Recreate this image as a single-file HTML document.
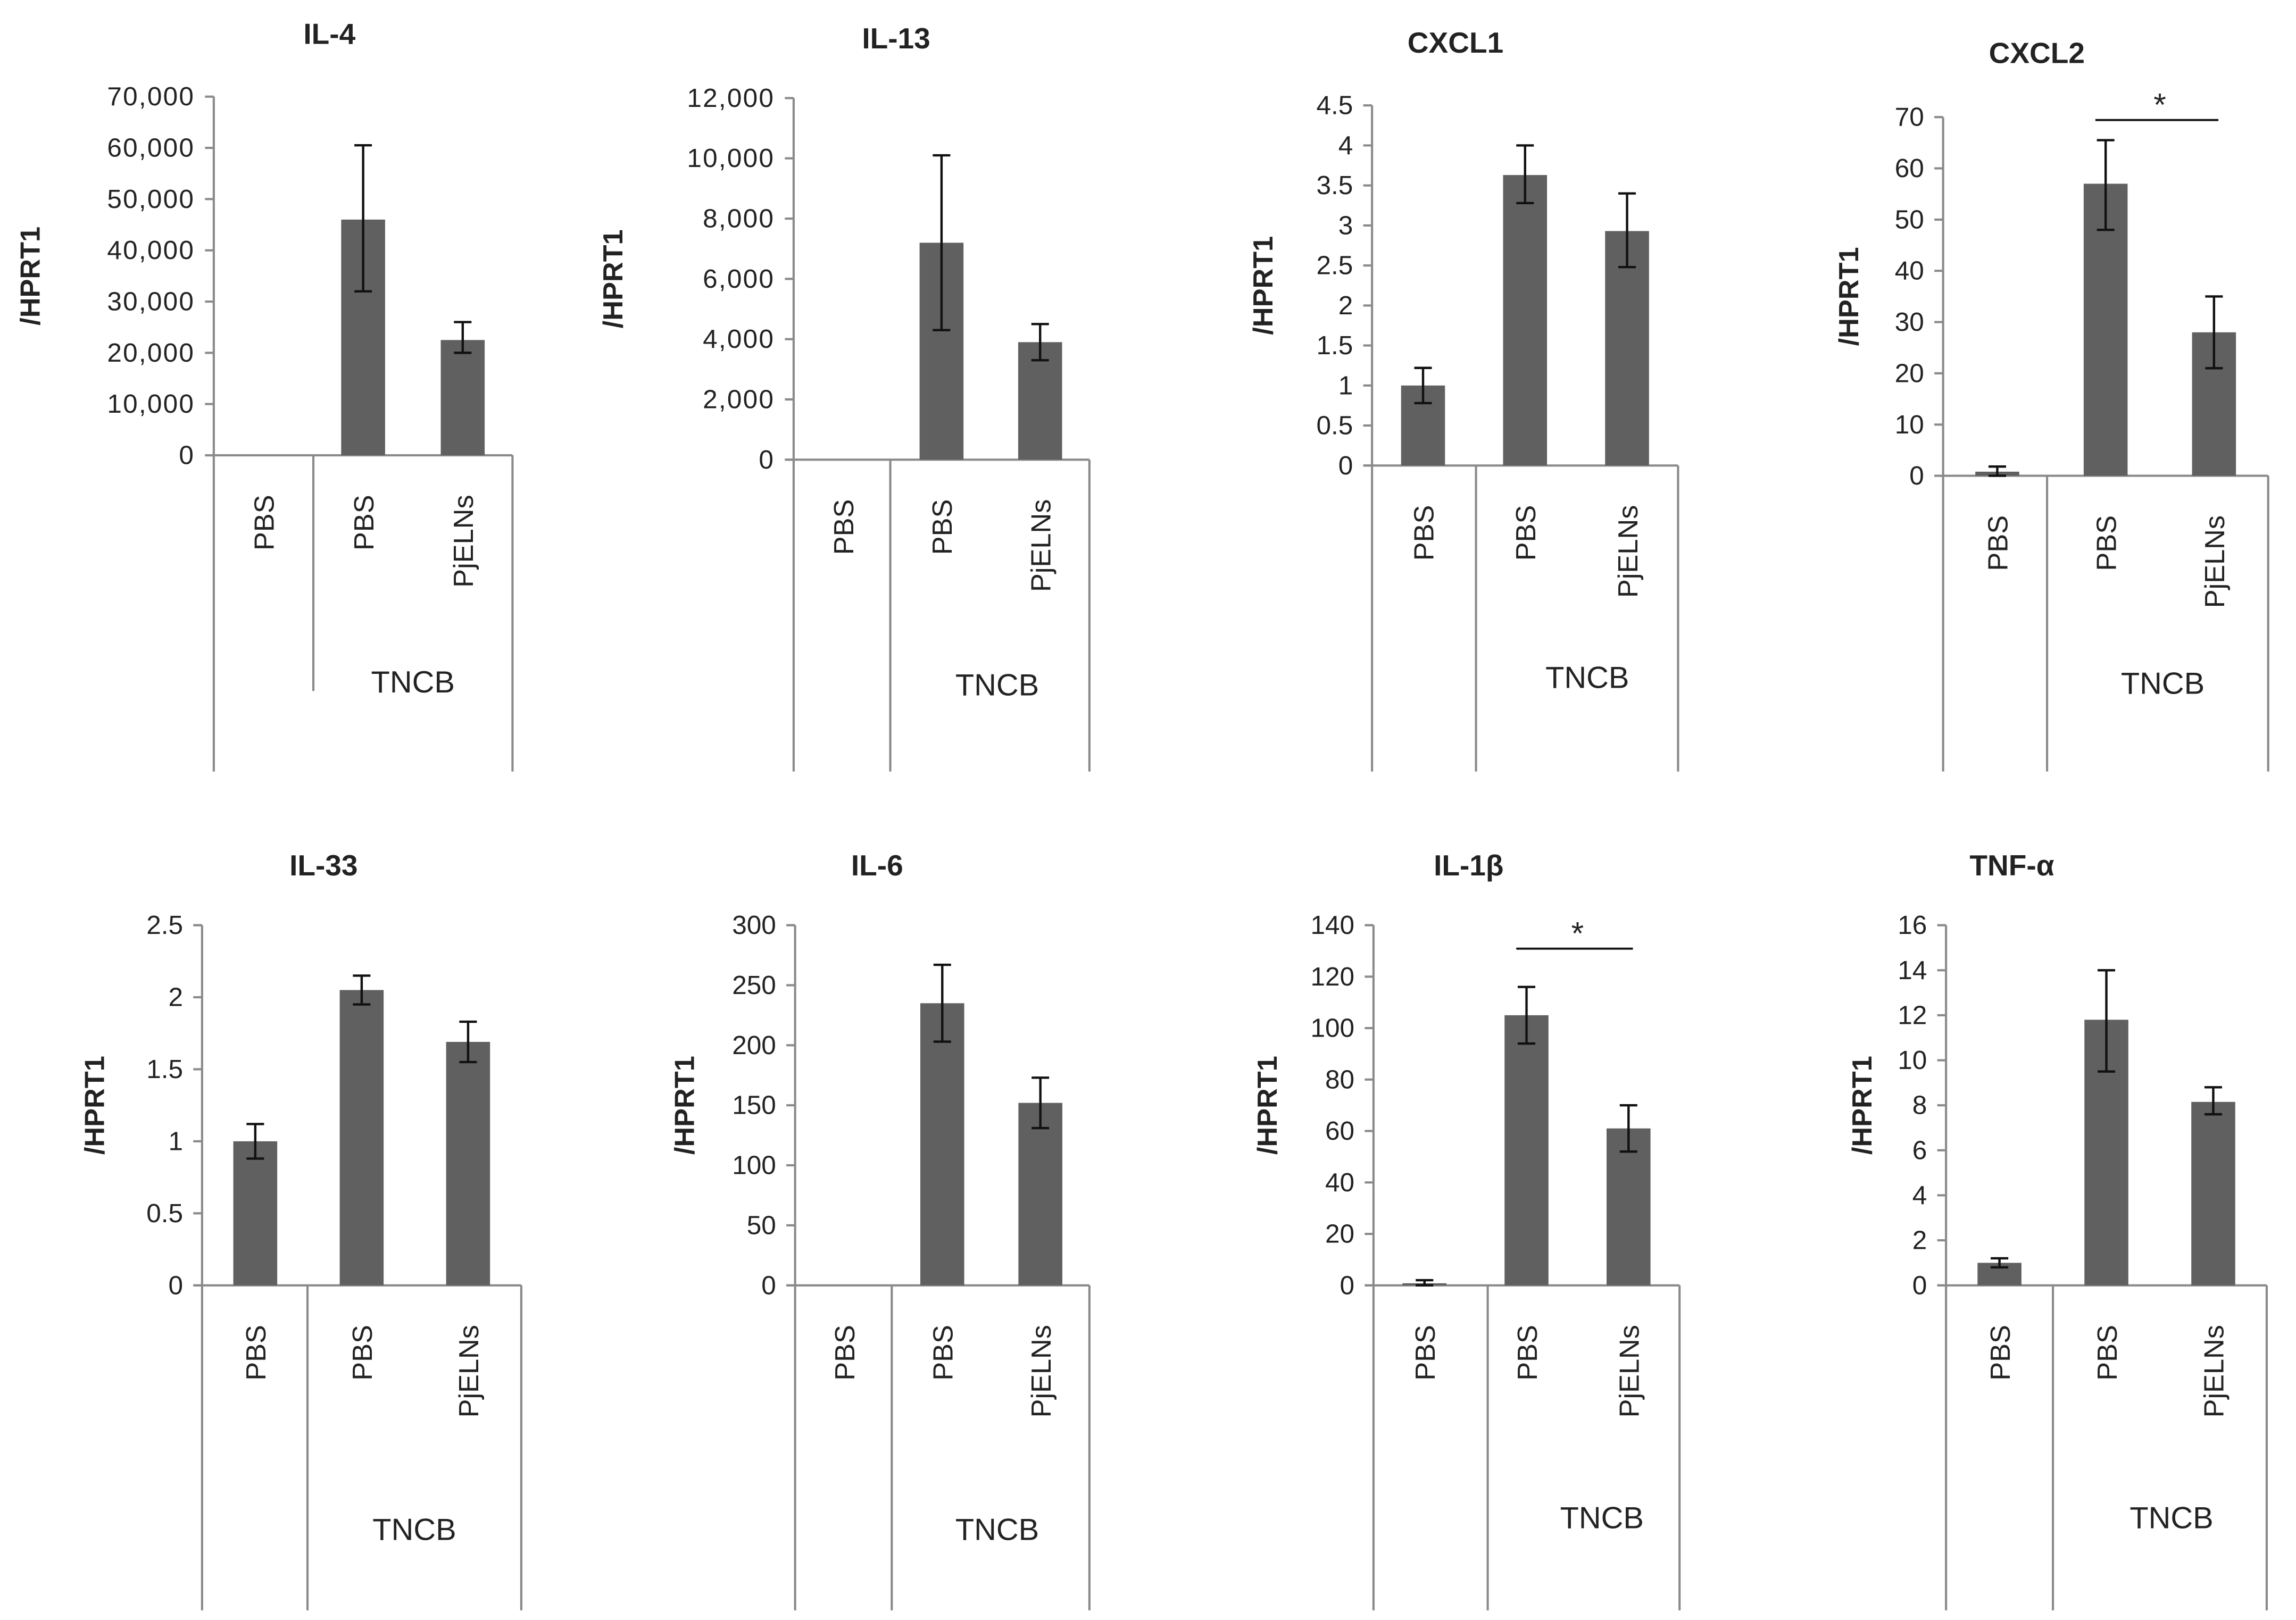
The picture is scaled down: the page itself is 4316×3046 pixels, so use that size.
<!DOCTYPE html>
<html><head><meta charset="utf-8"><style>
html,body{margin:0;padding:0;background:#fff;}
svg{display:block;}
text{font-family:"Liberation Sans",Arial,sans-serif;fill:#222;}
</style></head><body>
<svg id="chart" width="4316" height="3046" viewBox="0 0 1568 1106.6" xmlns="http://www.w3.org/2000/svg"></svg>
<script>
const titles = ["IL-4","IL-13","CXCL1","CXCL2","IL-33","IL-6","IL-1β","TNF-α"];
const categories = ["PBS","PBS","PjELNs"];
const groupLabel = "TNCB";
const values = [[0,46000,22500],[0,7200,3900],[1.0,3.63,2.93],[0.8,57,28],[1.0,2.05,1.69],[0,235,152],[0.8,105,61],[1.0,11.8,8.15]];
const errLow = [[0,32000,20000],[0,4300,3300],[0.78,3.28,2.48],[0,48,21],[0.88,1.95,1.55],[0,203,131],[0,94,52],[0.8,9.5,7.6]];
const errHigh = [[0,60500,26000],[0,10100,4500],[1.22,4.0,3.4],[1.8,65.5,35],[1.12,2.15,1.83],[0,267,173],[2,116,70],[1.2,14,8.8]];
const yMax = [70000,12000,4.5,70,2.5,300,140,16];
const yStep = [10000,2000,0.5,10,0.5,50,20,2];
const significant = [false,false,false,true,false,false,true,false];
// layout: [axisX, topY, zeroY, rightX, dividerX, bottomY, dividerBottom, titleX, titleY, tncbX, tncbY, ylabelX]
const layout = [
 [146,66,311,350,214,527,472,225,22,282,465,20],
 [542,67,314,744,608,527,527,612,25,681,467,418],
 [937,72,318,1146,1008,527,527,994,28,1084,462,862],
 [1327,80,325,1549,1398,527,527,1391,35,1477,466,1262],
 [138,632,878,356,210,1100,1100,221,590,283,1044,64],
 [543,632,878,744,609,1100,1100,599,590,681,1044,467],
 [938,632,878,1147,1016,1100,1100,1003,590,1094,1036,865],
 [1329,632,878,1548,1402,1100,1100,1374,590,1483,1036,1271]
];
const svg = document.getElementById('chart');
const NS = 'http://www.w3.org/2000/svg';
function mk(tag, attrs, parent){const e=document.createElementNS(NS,tag);for(const k in attrs)e.setAttribute(k,attrs[k]);(parent||svg).appendChild(e);return e;}
function fmt(v,i){ if(yMax[i]>=10000) return v.toLocaleString('en-US'); return String(+v.toFixed(2)); }
titles.forEach((t,i)=>{
  const [ax,top,zero,right,div,bot,divBot,tx,ty,ncx,ncy,ylx]=layout[i];
  const g=mk('g',{});
  
  
  const y=v=>zero-(v/yMax[i])*(zero-top);
  const cw=(right-ax)/3;
  const cx=k=>ax+cw*(k+0.5);
  const bw=30;
  const title=mk('text',{x:tx,y:ty+8,'text-anchor':'middle','font-size':20,'font-weight':'bold'},g);
  title.textContent=t;
  
  
  const yl=mk('text',{x:0,y:0,'text-anchor':'middle','font-size':19,'font-weight':'bold',transform:`translate(${ylx+7},${(top+zero)/2}) rotate(-90)`},g);
  yl.textContent='/HPRT1';
  
  
  const axl=mk('line',{x1:ax,y1:top,x2:ax,y2:bot,stroke:'#8a8a8a','stroke-width':1.5},g);
  
  
  const xl=mk('line',{x1:ax-6,y1:zero,x2:right,y2:zero,stroke:'#8a8a8a','stroke-width':1.5},g);
  
  
  mk('line',{x1:right,y1:zero,x2:right,y2:bot,stroke:'#8a8a8a','stroke-width':1.5},g);
  mk('line',{x1:div,y1:zero,x2:div,y2:divBot,stroke:'#8a8a8a','stroke-width':1.5},g);
  for(let v=0;v<=yMax[i]+1e-9;v+=yStep[i]){
    mk('line',{x1:ax-6,y1:y(v),x2:ax,y2:y(v),stroke:'#8a8a8a','stroke-width':1.5},g);
    const tl=mk('text',{x:ax-13,y:y(v)+6,'text-anchor':'end','font-size':18,'letter-spacing':yMax[i]>=10000?0.8:0},g);
    tl.textContent=fmt(v,i);
    
    
  }
  categories.forEach((c,k)=>{
    const v=values[i][k];
    if(v>0){
      const b=mk('rect',{x:cx(k)-bw/2,y:y(v),width:bw,height:zero-y(v),fill:'#606060'},g);
      
      
    }
    if(errHigh[i][k]>errLow[i][k]){
      const e=mk('path',{d:`M${cx(k)},${y(errLow[i][k])}V${y(errHigh[i][k])}M${cx(k)-6},${y(errLow[i][k])}h12M${cx(k)-6},${y(errHigh[i][k])}h12`,stroke:'#111','stroke-width':1.6,fill:'none'},g);
      
      
    }
    const cl=mk('text',{x:0,y:0,'text-anchor':'end','font-size':19,transform:`translate(${cx(k)+7},${zero+27}) rotate(-90)`},g);
    cl.textContent=c;
    
    
  });
  const tn=mk('text',{x:ncx,y:ncy+8,'text-anchor':'middle','font-size':21},g);
  tn.textContent=groupLabel;
  
  
  if(significant[i]){
    const sy=y(yMax[i])+ (i===3?2:16);
    const sl=mk('line',{x1:cx(1)-7,y1:sy,x2:cx(2)+3,y2:sy,stroke:'#111','stroke-width':1.4},g);
    
    
    const st=mk('text',{x:(cx(1)+cx(2))/2,y:sy-3,'text-anchor':'middle','font-size':22},g);
    st.textContent='*';
    
    
  }
});
</script>
</body></html>
